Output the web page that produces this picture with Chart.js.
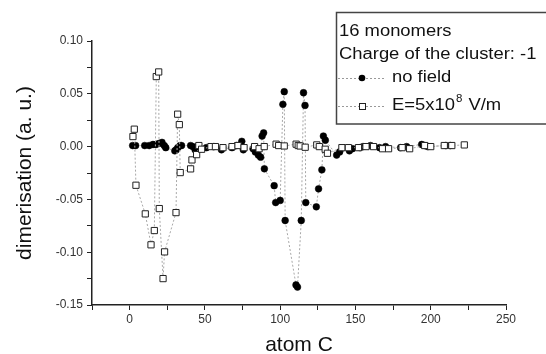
<!DOCTYPE html>
<html>
<head>
<meta charset="utf-8">
<script src="https://cdn.jsdelivr.net/npm/chart.js@4/dist/chart.umd.min.js"></script>
<style>
  html, body { margin: 0; padding: 0; background: #fff; }
  #wrap { width: 546px; height: 354px; }
</style>
</head>
<body>
<div id="wrap"><canvas id="c" width="546" height="354"></canvas></div>
<script>
// ---- data ----
const noFieldX = [2,4,10,13,15.5,17.5,19.5,21.5,23,24,30,31,32,33.5,34.5,40.5,42,43.5,45,51,56,61,68,71,74.5,75.5,82,83.5,85.5,87,88,89,89.5,96,97,100,101.8,102.7,103.3,110.5,111.5,114,115.5,116.5,117,124,125.5,127.7,128.7,130,137.5,139.5,146,148,153,155,160,166,170,180,184,194,196,198,210,213];
const noFieldY = [0.001,0.001,0.001,0.001,0.002,0.002,0.003,0.004,0.001,-0.001,-0.004,-0.003,-0.001,0.001,0.001,0.001,0,-0.003,0,-0.001,0,-0.003,-0.001,0.001,0.005,-0.003,-0.002,-0.005,-0.008,-0.010,0.010,0.013,-0.021,-0.037,-0.053,-0.051,0.040,0.052,-0.070,-0.131,-0.133,-0.070,0.051,0.039,-0.053,-0.057,-0.040,-0.022,0.010,0.006,-0.008,-0.005,-0.004,-0.002,-0.001,0,0.001,-0.001,0,-0.001,0,0.002,0.001,0,0.001,0.001];
const fieldX = [2.2,3.1,4.2,10.4,14.2,16.4,17.7,19.3,19.7,22.2,23.2,30.8,31.9,33,33.6,40.5,41.4,44.5,46,47.8,54,57,62,68,72,76,83,86,89.4,97.3,99,102.7,110.6,112,113.3,116.6,124.3,126,129.9,131.4,141,145.3,152,157,162,168,172,181,186,196,200,209,214,222.3];
const fieldY = [0.0095,0.0165,-0.0366,-0.0637,-0.093,-0.0795,0.0663,0.0707,-0.0587,-0.125,-0.0997,-0.0625,0.0307,0.0208,-0.0246,-0.0211,-0.0126,-0.0076,0.001,-0.0025,0,0,-0.001,0,0.001,-0.001,0,-0.002,0,0.0023,0.001,0.0006,0.0023,0.001,0.0006,-0.0006,0.0016,0,-0.0025,-0.0063,-0.001,-0.001,-0.001,0,0,-0.002,-0.002,-0.001,-0.002,0.001,0,0.001,0.001,0.0016];
const seriesLabels = ['no field', 'E=5x10^8 V/m'];
const legendTitle = ['16 monomers', 'Charge of the cluster: -1'];
const xTickLabels = [0, 50, 100, 150, 200, 250];
const yTickLabels = [-0.15, -0.10, -0.05, 0.00, 0.05, 0.10];
const xTitle = 'atom C';
const yTitle = 'dimerisation (a. u.)';

const toPts = (xs, ys) => xs.map((x, i) => ({ x: x, y: ys[i] }));
const FONT = "'Liberation Sans', Arial, sans-serif";

const legendPlugin = {
  id: 'boxLegend',
  afterDraw(chart) {
    const ctx = chart.ctx;
    ctx.save();
    ctx.strokeStyle = '#444';
    ctx.lineWidth = 1.5;
    ctx.strokeRect(336.5, 12.5, 240, 111.5);
    ctx.fillStyle = '#111';
    ctx.textBaseline = 'middle';
    ctx.font = '16px ' + FONT;
    const sx = 1.15;
    const drawText = (t, x, y) => {
      ctx.save(); ctx.translate(x, y); ctx.scale(sx, 1); ctx.fillText(t, 0, 0); ctx.restore();
    };
    drawText(legendTitle[0], 339, 31.5);
    drawText(legendTitle[1], 339, 54.5);
    const rows = [78, 106];
    rows.forEach((y) => {
      ctx.save();
      ctx.strokeStyle = '#999';
      ctx.lineWidth = 1;
      ctx.setLineDash([2, 2]);
      ctx.beginPath(); ctx.moveTo(338, y + 0.5); ctx.lineTo(386, y + 0.5); ctx.stroke();
      ctx.restore();
    });
    ctx.fillStyle = '#000';
    ctx.beginPath(); ctx.arc(362, rows[0], 3.3, 0, Math.PI * 2); ctx.fill();
    ctx.fillStyle = '#fff';
    ctx.strokeStyle = '#222';
    ctx.lineWidth = 1;
    ctx.fillRect(359, rows[1] - 3, 6, 6);
    ctx.strokeRect(359.5, rows[1] - 2.5, 6, 6);
    ctx.fillStyle = '#111';
    drawText(seriesLabels[0], 392, rows[0]);
    const base = 'E=5x10';
    ctx.font = '16px ' + FONT;
    const w1 = ctx.measureText(base).width * sx;
    drawText(base, 392, rows[1]);
    ctx.font = '10px ' + FONT;
    drawText('8', 392 + w1 + 1, rows[1] - 7);
    const w2 = ctx.measureText('8').width * sx;
    ctx.font = '16px ' + FONT;
    drawText(' V/m', 392 + w1 + w2 + 2, rows[1]);
    ctx.restore();
  }
};

new Chart(document.getElementById('c'), {
  type: 'scatter',
  data: {
    datasets: [
      {
        label: seriesLabels[0],
        data: toPts(noFieldX, noFieldY),
        showLine: true,
        borderColor: '#a8a8a8',
        borderWidth: 1,
        borderDash: [2, 2],
        pointStyle: 'circle',
        pointRadius: 3.4,
        pointBackgroundColor: '#000',
        pointBorderColor: '#000',
        pointBorderWidth: 0.5,
        order: 1
      },
      {
        label: seriesLabels[1],
        data: toPts(fieldX, fieldY),
        showLine: true,
        borderColor: '#a8a8a8',
        borderWidth: 1,
        borderDash: [2, 2],
        pointStyle: 'rect',
        pointRadius: 4.4,
        pointBackgroundColor: '#fff',
        pointBorderColor: '#222',
        pointBorderWidth: 1,
        order: 0
      }
    ]
  },
  options: {
    responsive: false,
    animation: false,
    devicePixelRatio: 1,
    layout: { padding: { top: 41, right: 40, left: 0, bottom: 0 } },
    plugins: { legend: { display: false }, tooltip: { enabled: false } },
    scales: {
      x: {
        type: 'linear',
        min: -25, max: 250,
        afterFit(s) { s.height = 49; },
        grid: { drawOnChartArea: false, drawTicks: true, tickLength: 5, tickColor: '#222', tickWidth: 1 },
        border: { display: true, color: '#222', width: 1.5 },
        ticks: {
          stepSize: 25,
          autoSkip: false,
          maxRotation: 0,
          padding: 2,
          color: '#333',
          font: { family: FONT, size: 12 },
          callback: (v) => xTickLabels.includes(Math.round(v)) && Math.abs(v - Math.round(v)) < 1e-6 ? String(Math.round(v)) : ''
        },
        title: { display: true, text: xTitle, color: '#111', font: { family: FONT, size: 21, lineHeight: 1 }, padding: { top: 0, bottom: -2 } }
      },
      y: {
        type: 'linear',
        min: -0.15, max: 0.10,
        afterFit(s) { s.width = 92; },
        grid: { drawOnChartArea: false, drawTicks: true, tickLength: 5, tickColor: '#222', tickWidth: 1 },
        border: { display: true, color: '#222', width: 1.5 },
        ticks: {
          stepSize: 0.025,
          autoSkip: false,
          padding: 4,
          color: '#333',
          font: { family: FONT, size: 12 },
          callback: (v) => {
            const r = Math.round(v * 1000) / 1000;
            const hit = yTickLabels.find(t => Math.abs(t - r) < 1e-6);
            return hit !== undefined ? hit.toFixed(2) : '';
          }
        },
        title: { display: true, text: yTitle, color: '#111', font: { family: FONT, size: 21 }, padding: { top: 13, bottom: 0 } }
      }
    }
  },
  plugins: [legendPlugin]
});
</script>
</body>
</html>
